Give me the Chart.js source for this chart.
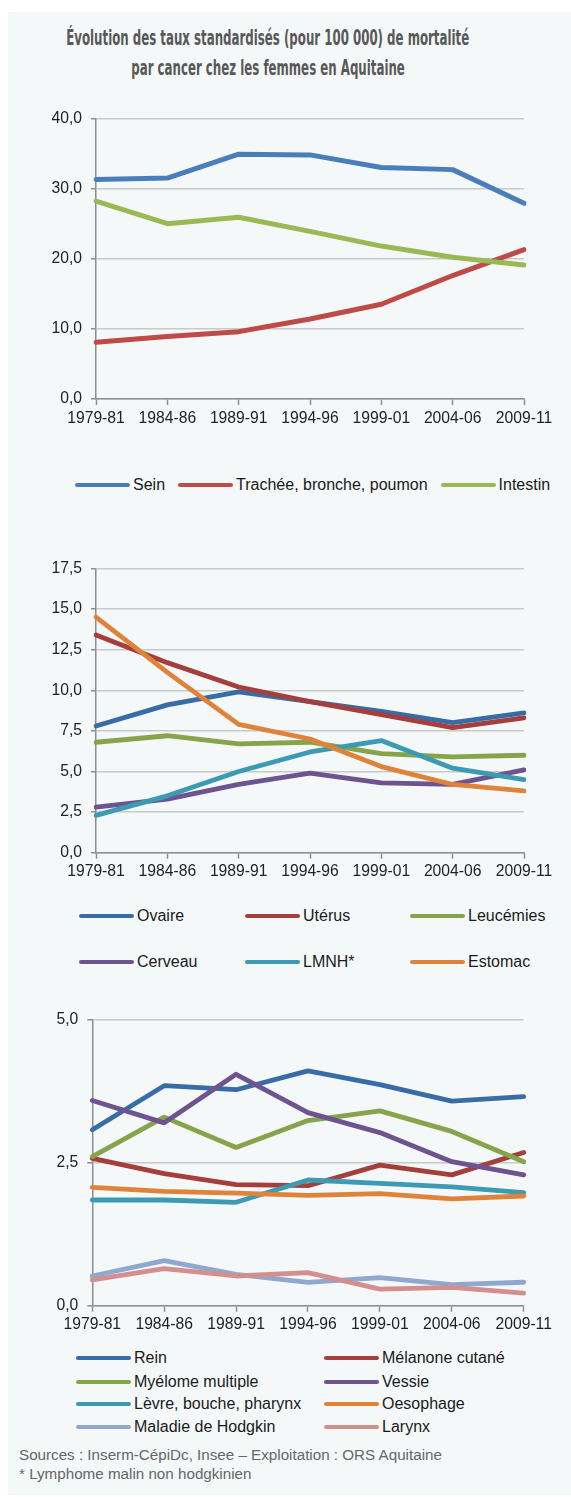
<!DOCTYPE html>
<html lang="fr">
<head>
<meta charset="utf-8">
<title>Mortalité par cancer chez les femmes en Aquitaine</title>
<script src="https://cdn.jsdelivr.net/npm/chart.js@4.4.1/dist/chart.umd.min.js"></script>
<style>
  html, body { margin: 0; padding: 0; background: #ffffff; }
  body { width: 571px; height: 1497px; position: relative; overflow: hidden;
         font-family: "Liberation Sans", Arial, Helvetica, sans-serif; }
  #panel { position: absolute; left: 8px; top: 12px; width: 563px; height: 1483px; background: #f5f8f9; }
  .title { position: absolute; left: -232px; width: 1000px; text-align: center;
           font-family: "Liberation Sans Narrow", "DejaVu Sans Condensed", "Liberation Sans", sans-serif;
           font-weight: bold; font-size: 21px; color: #585858; line-height: 30px; white-space: nowrap; }
  .title span { display: inline-block; transform-origin: 50% 50%; }
  .chartbox { position: absolute; left: 0; }
  .legend { position: absolute; font-size: 16px; color: #1a1a1a; }
  .item { position: absolute; display: flex; align-items: center; white-space: nowrap; height: 20px; }
  .swatch { width: 55px; height: 4px; border-radius: 2px; margin-right: 3px; }
  .notes { position: absolute; left: 19px; top: 1446px; font-size: 15.2px; color: #666666; line-height: 18.5px; }
</style>
</head>
<body>
<div id="panel"></div>
<div class="title" style="top:23px"><span id="t1">Évolution des taux standardisés (pour 100 000) de mortalité</span></div>
<div class="title" style="top:53px"><span id="t2">par cancer chez les femmes en Aquitaine</span></div>

<div class="chartbox" style="top:100px"><canvas id="c1" width="571" height="330"></canvas></div>
<div class="legend" id="l1"></div>

<div class="chartbox" style="top:550px"><canvas id="c2" width="571" height="330"></canvas></div>
<div class="legend" id="l2"></div>

<div class="chartbox" style="top:1000px"><canvas id="c3" width="571" height="340"></canvas></div>
<div class="legend" id="l3"></div>

<div class="notes">Sources : Inserm-CépiDc, Insee – Exploitation : ORS Aquitaine<br>* Lymphome malin non hodgkinien</div>

<script>
// Periods (three-year averages)
const periods = ['1979-81', '1984-86', '1989-91', '1994-96', '1999-01', '2004-06', '2009-11'];

// Main cancer sites
const sein = [31.3, 31.5, 34.9, 34.8, 33.0, 32.7, 27.9];
const tracheeBronchePoumon = [8.1, 8.9, 9.6, 11.4, 13.5, 17.6, 21.3];
const intestin = [28.2, 25.0, 25.9, 23.9, 21.8, 20.2, 19.1];

// Intermediate sites
const ovaire = [7.8, 9.1, 9.9, 9.3, 8.7, 8.0, 8.6];
const uterus = [13.4, 11.7, 10.2, 9.3, 8.5, 7.7, 8.3];
const leucemies = [6.8, 7.2, 6.7, 6.8, 6.1, 5.9, 6.0];
const cerveau = [2.8, 3.3, 4.2, 4.9, 4.3, 4.2, 5.1];
const lmnh = [2.3, 3.5, 5.0, 6.2, 6.9, 5.2, 4.5];
const estomac = [14.5, 11.1, 7.9, 7.0, 5.3, 4.2, 3.8];

// Less frequent sites
const rein = [3.08, 3.85, 3.78, 4.11, 3.87, 3.58, 3.66];
const melanome = [2.58, 2.31, 2.12, 2.10, 2.46, 2.29, 2.68];
const myelome = [2.61, 3.30, 2.77, 3.24, 3.41, 3.05, 2.52];
const vessie = [3.59, 3.20, 4.05, 3.38, 3.03, 2.52, 2.29];
const levreBouchePharynx = [1.85, 1.85, 1.81, 2.20, 2.14, 2.08, 1.98];
const oesophage = [2.07, 2.00, 1.97, 1.93, 1.96, 1.87, 1.92];
const hodgkin = [0.52, 0.79, 0.55, 0.41, 0.49, 0.37, 0.41];
const larynx = [0.45, 0.65, 0.52, 0.58, 0.29, 0.32, 0.22];

// Y-axis tick values
const yTicks1 = [0, 10, 20, 30, 40];
const yTicks2 = [0, 2.5, 5, 7.5, 10, 12.5, 15, 17.5];
const yTicks3 = [0, 2.5, 5];

const series1 = [
  { label: 'Sein', data: sein, color: '#4a7ebb' },
  { label: 'Trachée, bronche, poumon', data: tracheeBronchePoumon, color: '#be4b48' },
  { label: 'Intestin', data: intestin, color: '#98b954' }
];
const series2 = [
  { label: 'Ovaire', data: ovaire, color: '#386ca6' },
  { label: 'Utérus', data: uterus, color: '#a53f3c' },
  { label: 'Leucémies', data: leucemies, color: '#86a44a' },
  { label: 'Cerveau', data: cerveau, color: '#6d538f' },
  { label: 'LMNH*', data: lmnh, color: '#3c9bb3' },
  { label: 'Estomac', data: estomac, color: '#e0833a' }
];
const series3 = [
  { label: 'Rein', data: rein, color: '#386ca6' },
  { label: 'Mélanone cutané', data: melanome, color: '#a53f3c' },
  { label: 'Myélome multiple', data: myelome, color: '#86a44a' },
  { label: 'Vessie', data: vessie, color: '#6d538f' },
  { label: 'Lèvre, bouche, pharynx', data: levreBouchePharynx, color: '#3c9bb3' },
  { label: 'Oesophage', data: oesophage, color: '#e0833a' },
  { label: 'Maladie de Hodgkin', data: hodgkin, color: '#90a8cf' },
  { label: 'Larynx', data: larynx, color: '#d38f8e' }
];

const tickFont = { family: '"Liberation Sans", Arial, Helvetica, sans-serif', size: 15.7 };
const axisGray = '#8e8e8e';

function makeChart(id, series, yTicks, opts) {
  const n = series.length;
  return new Chart(document.getElementById(id), {
    type: 'line',
    data: {
      labels: periods,
      datasets: series.map((s, i) => ({
        label: s.label,
        data: s.data,
        borderColor: s.color,
        backgroundColor: s.color,
        borderWidth: opts.lineWidth,
        pointRadius: 0,
        pointHoverRadius: 0,
        tension: 0,
        borderJoinStyle: 'round',
        borderCapStyle: 'round',
        fill: false,
        order: n - i
      }))
    },
    options: {
      responsive: false,
      animation: false,
      events: [],
      layout: { padding: { top: opts.padTop, right: opts.padRight, left: 0, bottom: 0 } },
      plugins: { legend: { display: false }, tooltip: { enabled: false }, title: { display: false } },
      scales: {
        x: {
          offset: false,
          grid: { display: true, drawOnChartArea: false, tickLength: 6, tickColor: axisGray, tickWidth: 1.5 },
          border: { color: axisGray, width: 1.5 },
          ticks: { font: tickFont, color: '#222222', padding: 4, maxRotation: 0, autoSkip: false },
          afterFit(scale) { scale.height = opts.xHeight; }
        },
        y: {
          min: yTicks[0],
          max: yTicks[yTicks.length - 1],
          afterBuildTicks(scale) { scale.ticks = yTicks.map(v => ({ value: v })); },
          grid: { color: '#c9c9c9', lineWidth: 1.5, tickLength: 5, tickColor: axisGray, tickWidth: 1.5 },
          border: { color: axisGray, width: 1.5 },
          ticks: {
            font: tickFont, color: '#222222', padding: 9,
            callback: v => Number(v).toFixed(1).replace('.', ',')
          },
          afterFit(scale) { scale.width = opts.yWidth; }
        }
      }
    }
  });
}

makeChart('c1', series1, yTicks1, { lineWidth: 5, padTop: 12.7, padRight: 47, xHeight: 31, yWidth: 96 });
makeChart('c2', series2, yTicks2, { lineWidth: 4.8, padTop: 16, padRight: 47, xHeight: 27.3, yWidth: 96 });
makeChart('c3', series3, yTicks3, { lineWidth: 4.8, padTop: 20, padRight: 47.3, xHeight: 34.3, yWidth: 92.3 });

// HTML legends built from the series lists
function buildLegend(id, series, placeItem) {
  const box = document.getElementById(id);
  series.forEach((s, i) => {
    const it = document.createElement('div');
    it.className = 'item';
    const sw = document.createElement('span');
    sw.className = 'swatch';
    sw.style.background = s.color;
    const tx = document.createElement('span');
    tx.textContent = s.label;
    it.appendChild(sw);
    it.appendChild(tx);
    placeItem(it, i);
    box.appendChild(it);
  });
}

// Legend 1: one row, items flowing left to right
(function () {
  const box = document.getElementById('l1');
  box.style.left = '75px';
  box.style.top = '475px';
  box.style.display = 'flex';
  box.style.gap = '13px';
  buildLegend('l1', series1, it => { it.style.position = 'static'; });
})();

// Legend 2: three columns, two rows
(function () {
  const box = document.getElementById('l2');
  box.style.left = '0px';
  box.style.top = '0px';
  const cols = [79, 245, 410];
  const rows = [906, 952];
  buildLegend('l2', series2, (it, i) => {
    it.style.left = cols[i % 3] + 'px';
    it.style.top = rows[Math.floor(i / 3)] + 'px';
  });
})();

// Legend 3: two columns, four rows
(function () {
  const box = document.getElementById('l3');
  box.style.left = '0px';
  box.style.top = '0px';
  const cols = [76, 324];
  const rows = [1348.3, 1371.5, 1393.5, 1416.7];
  buildLegend('l3', series3, (it, i) => {
    it.style.left = cols[i % 2] + 'px';
    it.style.top = rows[Math.floor(i / 2)] + 'px';
  });
})();

// Condense the title lines to the narrow heading width
(function () {
  const t1 = document.getElementById('t1');
  const t2 = document.getElementById('t2');
  const w = t1.getBoundingClientRect().width;
  const k = 403 / w;
  t1.style.transform = 'scaleX(' + k + ')';
  t2.style.transform = 'scaleX(' + k + ')';
})();
</script>
</body>
</html>
